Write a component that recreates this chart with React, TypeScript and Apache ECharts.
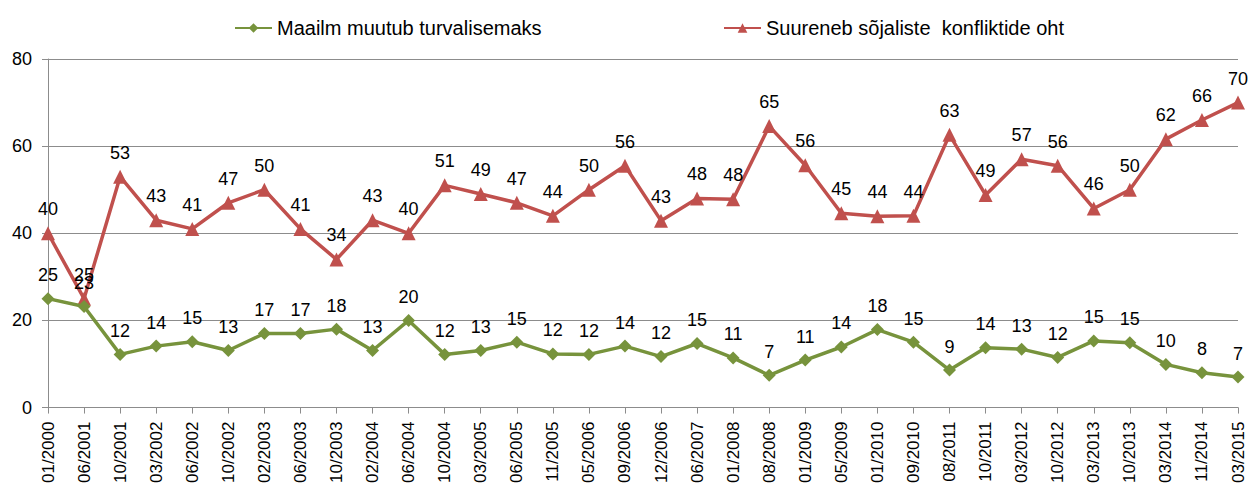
import React, { useEffect, useRef } from "react";
import * as echarts from "echarts";

const categories = [
  "01/2000", "06/2001", "10/2001", "03/2002", "06/2002", "10/2002", "02/2003", "06/2003",
  "10/2003", "02/2004", "06/2004", "10/2004", "03/2005", "06/2005", "11/2005", "05/2006",
  "09/2006", "12/2006", "06/2007", "01/2008", "08/2008", "01/2009", "05/2009", "01/2010",
  "09/2010", "08/2011", "10/2011", "03/2012", "10/2012", "03/2013", "10/2013", "03/2014",
  "11/2014", "03/2015",
];

const saferWorld = [
  25, 23.2, 12.2, 14.1, 15.1, 13.1, 17, 17, 18, 13.1, 20, 12.2, 13.1, 15, 12.3, 12.2,
  14.1, 11.7, 14.7, 11.4, 7.4, 10.9, 13.9, 17.9, 15, 8.6, 13.7, 13.4, 11.5, 15.3,
  14.9, 9.9, 8, 7,
];

const conflictRisk = [
  40, 25, 53, 43, 41, 47, 50, 41, 34, 43, 40, 51, 49, 47, 44, 50,
  55.5, 42.9, 48, 47.8, 64.6, 55.6, 44.6, 43.9, 44, 62.6, 48.8, 57, 55.5, 45.7,
  50, 61.6, 66, 70,
];

const seriesNames = ["Maailm muutub turvalisemaks", "Suureneb sõjaliste  konfliktide oht"];

export default function App() {
  const ref = useRef<HTMLDivElement>(null);
  useEffect(() => {
    document.body.style.margin = "0";
    if (!ref.current) return;
    const chart = echarts.init(ref.current, undefined, { renderer: "svg" });
    const font = "Arial, 'Liberation Sans', sans-serif";
    const labelCfg = {
      show: true,
      position: "top" as const,
      distance: 8,
      color: "#000",
      fontSize: 18,
      fontFamily: font,
      formatter: (p: any) => String(Math.round(p.value)),
    };
    const legendText = { fontSize: 20, color: "#000", fontFamily: font };
    chart.setOption({
      animation: false,
      backgroundColor: "#fff",
      textStyle: { fontFamily: font },
      legend: [
        {
          data: [seriesNames[0]],
          left: 229,
          top: 13,
          itemWidth: 37,
          itemHeight: 12,
          itemGap: 4,
          textStyle: legendText,
        },
        {
          data: [seriesNames[1]],
          left: 718,
          top: 13,
          itemWidth: 37,
          itemHeight: 12,
          textStyle: legendText,
        },
      ],
      grid: { left: 48, right: 12, top: 59, bottom: 78, containLabel: false },
      xAxis: {
        type: "category",
        data: categories,
        boundaryGap: false,
        axisLine: { lineStyle: { color: "#8c8c8c", width: 1 } },
        axisTick: { show: true, alignWithLabel: true, length: 6, lineStyle: { color: "#8c8c8c" } },
        axisLabel: {
          rotate: 90,
          interval: 0,
          color: "#000",
          fontSize: 17,
          fontFamily: font,
          margin: 14,
        },
      },
      yAxis: {
        type: "value",
        min: 0,
        max: 80,
        interval: 20,
        axisLine: { show: true, lineStyle: { color: "#8c8c8c", width: 1 } },
        axisTick: { show: true, length: 6, lineStyle: { color: "#8c8c8c" } },
        axisLabel: { color: "#000", fontSize: 18, fontFamily: font, margin: 16 },
        splitLine: { lineStyle: { color: "#8c8c8c", width: 1 } },
      },
      series: [
        {
          name: seriesNames[0],
          type: "line",
          data: saferWorld,
          color: "#77933C",
          symbol: "diamond",
          symbolSize: 13,
          lineStyle: { width: 3.5, color: "#77933C" },
          itemStyle: { color: "#77933C" },
          label: labelCfg,
          z: 3,
        },
        {
          name: seriesNames[1],
          type: "line",
          data: conflictRisk,
          color: "#C0504D",
          symbol: "triangle",
          symbolSize: 14,
          lineStyle: { width: 3.5, color: "#C0504D" },
          itemStyle: { color: "#C0504D" },
          label: labelCfg,
          z: 2,
        },
      ],
    });
    return () => chart.dispose();
  }, []);
  return <div ref={ref} style={{ width: 1250, height: 486 }} />;
}
